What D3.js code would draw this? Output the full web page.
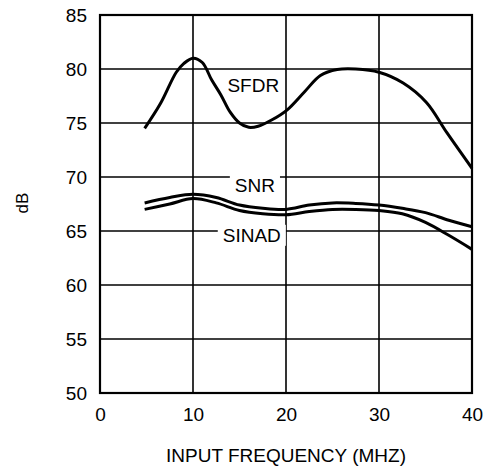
<!DOCTYPE html>
<html>
<head>
<meta charset="utf-8">
<script src="https://cdn.jsdelivr.net/npm/d3@7"></script>
<style>
  html, body { margin: 0; padding: 0; background: #fff; }
  svg { display: block; }
  text { font-family: "Liberation Sans", Arial, sans-serif; fill: #000; }
</style>
</head>
<body>
<svg id="chart" width="483" height="468"></svg>
<script>
// Data
const xTicks = [0, 10, 20, 30, 40];
const yTicks = [50, 55, 60, 65, 70, 75, 80, 85];

const sfdrFreq = [4.8, 6.5, 8.2, 9.0, 10.0, 11.0, 12.0, 13.0, 14.0, 15.0, 16.0, 17.0, 18.5, 20.1, 22.0, 23.7, 25.5, 27.5, 30.0, 32.6, 35.1, 37.3, 40.0];
const sfdrDb   = [74.5, 76.8, 79.7, 80.5, 81.0, 80.6, 79.0, 77.6, 76.0, 75.0, 74.6, 74.7, 75.3, 76.2, 77.9, 79.4, 79.95, 80.0, 79.7, 78.7, 76.9, 74.1, 70.8];

const snrFreq = [4.8, 7.5, 10.0, 12.5, 15.0, 17.5, 20.0, 22.5, 25.0, 27.5, 30.0, 32.5, 35.0, 37.5, 40.0];
const snrDb   = [67.6, 68.1, 68.4, 68.1, 67.4, 67.1, 67.0, 67.4, 67.6, 67.55, 67.4, 67.1, 66.7, 66.0, 65.4];

const sinadFreq = [4.8, 7.5, 10.0, 12.5, 15.0, 17.5, 20.0, 22.5, 25.0, 27.5, 30.0, 32.5, 35.0, 37.5, 40.0];
const sinadDb   = [67.0, 67.5, 68.0, 67.6, 66.9, 66.6, 66.5, 66.8, 67.0, 67.0, 66.9, 66.6, 65.8, 64.6, 63.3];

const seriesLabels = ["SFDR", "SNR", "SINAD"];
const xTitle = "INPUT FREQUENCY (MHZ)";
const yTitle = "dB";

(function () {
const svg = d3.select("#chart");
const pLeft = 100, pRight = 472, pTop = 15, pBottom = 393;

const x = d3.scaleLinear().domain([0, 40]).range([pLeft, pRight]);
const y = d3.scaleLinear().domain([50, 85]).range([pBottom, pTop]);

const FONT = 19;

// grid lines
const grid = svg.append("g");
grid.selectAll("line.h").data(yTicks).join("line").attr("class", "h")
  .attr("x1", pLeft).attr("x2", pRight)
  .attr("y1", d => y(d)).attr("y2", d => y(d))
  .attr("stroke", "#000").attr("stroke-width", 1.6);
grid.selectAll("line.v").data(xTicks).join("line").attr("class", "v")
  .attr("y1", pTop).attr("y2", pBottom)
  .attr("x1", d => x(d)).attr("x2", d => x(d))
  .attr("stroke", "#000").attr("stroke-width", 1.6);

// axes (labels only)
const yAxis = d3.axisLeft(y).tickValues(yTicks).tickSize(0).tickPadding(13);
const gy = svg.append("g").attr("transform", `translate(${pLeft},0)`).call(yAxis);
gy.select(".domain").remove();
gy.selectAll("text").style("font-size", FONT + "px").style("font-family", '"Liberation Sans", Arial, sans-serif').attr("dy", "0.35em");

const xAxis = d3.axisBottom(x).tickValues(xTicks).tickSize(0).tickPadding(15);
const gx = svg.append("g").attr("transform", `translate(0,${pBottom})`).call(xAxis);
gx.select(".domain").remove();
gx.selectAll("text").style("font-size", FONT + "px").style("font-family", '"Liberation Sans", Arial, sans-serif');

// titles
svg.append("text").attr("x", (pLeft + pRight) / 2).attr("y", 462)
  .attr("text-anchor", "middle").style("font-size", FONT + "px").text(xTitle);
svg.append("text").attr("transform", "translate(28,203) rotate(-90)")
  .attr("text-anchor", "middle").style("font-size", "17px").text(yTitle);

// series labels
const labelPos = [
  { t: seriesLabels[0], fx: 13.7, v: 77.9, bg: false },
  { t: seriesLabels[1], fx: 14.5, v: 68.6, bg: true },
  { t: seriesLabels[2], fx: 13.2, v: 64.0, bg: true }
];
const lg = svg.append("g");
labelPos.forEach(l => {
  const t = lg.append("text").attr("x", x(l.fx)).attr("y", y(l.v))
    .style("font-size", FONT + "px").text(l.t);
  if (l.bg) {
    const b = t.node().getBBox();
    lg.insert("rect", "text")
      .attr("x", b.x - 5).attr("y", b.y).attr("width", b.width + 10).attr("height", b.height)
      .attr("fill", "#fff");
  }
});

// curves
const line = d3.line().x(d => x(d[0])).y(d => y(d[1])).curve(d3.curveCatmullRom.alpha(0.5));
const curves = [
  d3.zip(sfdrFreq, sfdrDb),
  d3.zip(snrFreq, snrDb),
  d3.zip(sinadFreq, sinadDb)
];
svg.append("g").selectAll("path").data(curves).join("path")
  .attr("d", line).attr("fill", "none").attr("stroke", "#000")
  .attr("stroke-width", 3).attr("stroke-linejoin", "round");

// border
svg.append("rect").attr("x", pLeft).attr("y", pTop)
  .attr("width", pRight - pLeft).attr("height", pBottom - pTop)
  .attr("fill", "none").attr("stroke", "#000").attr("stroke-width", 2.2);
})();
</script>
</body>
</html>
